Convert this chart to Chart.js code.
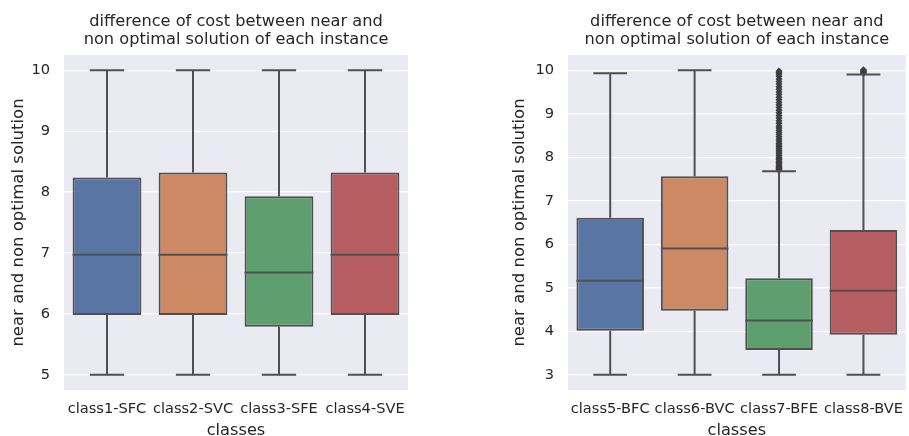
<!DOCTYPE html>
<html>
<head>
<meta charset="utf-8">
<script src="https://cdn.jsdelivr.net/npm/chart.js@4.4.1/dist/chart.umd.min.js"></script>
<style>
  html, body { margin: 0; padding: 0; background: #ffffff; overflow: hidden; width: 909px; height: 436px; }
  .panel { position: absolute; top: 0; height: 445px; }
  #left { left: 0; width: 454px; }
  #right { left: 454px; width: 460px; }
</style>
</head>
<body>
<div class="panel" id="left"><canvas id="c1"></canvas></div>
<div class="panel" id="right"><canvas id="c2"></canvas></div>
<script>
// Chart text
const titleLines = ['difference of cost between near and', 'non optimal solution of each instance'];
const yAxisTitle = 'near and non optimal solution';
const xAxisTitle = 'classes';

// Left panel: classes 1-4
const leftClasses = ['class1-SFC', 'class2-SVC', 'class3-SFE', 'class4-SVE'];
const leftLower  = [5.0, 5.0, 5.0, 5.0];
const leftQ1     = [5.98, 5.98, 5.79, 5.98];
const leftMedian = [6.97, 6.97, 6.68, 6.97];
const leftQ3     = [8.24, 8.32, 7.93, 8.32];
const leftUpper  = [10.0, 10.0, 10.0, 10.0];
const leftTicks  = [5, 6, 7, 8, 9, 10];

// Right panel: classes 5-8
const rightClasses = ['class5-BFC', 'class6-BVC', 'class7-BFE', 'class8-BVE'];
const rightLower  = [3.0, 3.0, 3.0, 3.0];
const rightQ1     = [4.01, 4.47, 3.57, 3.92];
const rightMedian = [5.16, 5.90, 4.25, 4.93];
const rightQ3     = [6.61, 7.56, 5.22, 6.33];
const rightUpper  = [9.93, 10.0, 7.68, 9.90];
const rightTicks  = [3, 4, 5, 6, 7, 8, 9, 10];

// Points beyond the whiskers
const outliersClass7 = [7.70, 7.72, 7.74, 7.76, 7.79, 7.82, 7.85, 7.88, 7.91, 7.94, 7.97, 8.00,
  8.04, 8.08, 8.12, 8.16, 8.20, 8.24, 8.28, 8.32, 8.37, 8.42, 8.47, 8.52, 8.57, 8.62, 8.67,
  8.72, 8.78, 8.84, 8.90, 8.96, 9.02, 9.08, 9.14, 9.20, 9.26, 9.32, 9.38, 9.44, 9.50, 9.56,
  9.62, 9.68, 9.74, 9.80, 9.86, 9.91, 9.95, 9.98];
const outliersClass8 = [9.93, 9.95, 9.97, 9.99, 10.01];

const boxColors = ['#5875a4', '#cc8963', '#5f9e6e', '#b55d60'];
const lineColor = '#505050';
const textColor = '#262626';
const fontFamily = '"DejaVu Sans", sans-serif';

// Plot background and whiskers / medians
const boxPlotPlugin = {
  id: 'boxPlot',
  beforeDraw(chart) {
    const a = chart.chartArea, ctx = chart.ctx;
    ctx.save();
    ctx.fillStyle = '#eaeaf2';
    ctx.fillRect(a.left, a.top, a.right - a.left, a.bottom - a.top);
    ctx.restore();
  },
  afterDatasetsDraw(chart) {
    const st = chart.options.plugins.boxPlot;
    const x = chart.scales.x, y = chart.scales.y, ctx = chart.ctx;
    const meta = chart.getDatasetMeta(0);
    ctx.save();
    ctx.strokeStyle = lineColor;
    ctx.lineWidth = 2;
    ctx.lineCap = 'butt';
    st.median.forEach((m, i) => {
      const cx = x.getPixelForValue(i);
      const bar = meta.data[i];
      const half = bar.width / 2;
      const capHalf = half / 2;
      const yl = y.getPixelForValue(st.lower[i]);
      const yq1 = y.getPixelForValue(st.q1[i]);
      const yq3 = y.getPixelForValue(st.q3[i]);
      const yu = y.getPixelForValue(st.upper[i]);
      const ym = y.getPixelForValue(m);
      ctx.beginPath();
      ctx.moveTo(cx, yq1); ctx.lineTo(cx, yl);
      ctx.moveTo(cx - capHalf, yl); ctx.lineTo(cx + capHalf, yl);
      ctx.moveTo(cx, yq3); ctx.lineTo(cx, yu);
      ctx.moveTo(cx - capHalf, yu); ctx.lineTo(cx + capHalf, yu);
      ctx.moveTo(cx - half, ym); ctx.lineTo(cx + half, ym);
      ctx.stroke();
    });
    ctx.restore();
  }
};

function makeChart(id, classes, lower, q1, median, q3, upper, ticks, yMin, yMax, outliers, pad, yWidth) {
  const datasets = [{
    type: 'bar',
    data: classes.map((c, i) => [q1[i], q3[i]]),
    backgroundColor: boxColors,
    borderColor: lineColor,
    borderWidth: 2,
    borderSkipped: false,
    barPercentage: 0.8,
    categoryPercentage: 1.0,
    order: 2
  }];
  outliers.forEach(o => {
    datasets.push({
      type: 'line',
      data: o.values.map(v => ({ x: o.cls, y: v })),
      showLine: false,
      pointStyle: 'rectRot',
      pointRadius: 3.5,
      pointBackgroundColor: '#3e3e3e',
      pointBorderColor: '#3e3e3e',
      pointBorderWidth: 0,
      order: 1
    });
  });
  return new Chart(document.getElementById(id), {
    data: { labels: classes, datasets },
    plugins: [boxPlotPlugin],
    options: {
      responsive: true,
      maintainAspectRatio: false,
      animation: false,
      events: [],
      layout: { padding: pad },
      plugins: {
        legend: { display: false },
        tooltip: { enabled: false },
        title: {
          display: true,
          text: titleLines,
          fullSize: false,
          color: textColor,
          font: { family: fontFamily, size: 16.2, weight: 'normal', lineHeight: 1.11 },
          padding: { top: 0, bottom: 6 }
        },
        boxPlot: { lower, q1, median, q3, upper }
      },
      scales: {
        x: {
          type: 'category',
          offset: true,
          grid: { display: false, drawTicks: false },
          border: { display: false },
          ticks: { color: textColor, font: { family: fontFamily, size: 14.6 }, padding: 10, maxRotation: 0, autoSkip: false },
          title: { display: true, text: xAxisTitle, color: textColor, font: { family: fontFamily, size: 16.2, lineHeight: 1.0 }, padding: { top: 0, bottom: 6 } },
          afterFit(s) { s.height = 55; }
        },
        y: {
          min: yMin,
          max: yMax,
          afterBuildTicks(s) { s.ticks = ticks.map(v => ({ value: v })); },
          grid: { color: '#ffffff', lineWidth: 1.2, drawTicks: false },
          border: { display: false },
          ticks: { color: textColor, font: { family: fontFamily, size: 14.6 }, padding: 14 },
          title: { display: true, text: yAxisTitle, color: textColor, font: { family: fontFamily, size: 16.5, lineHeight: 1.0 }, padding: { top: 10, bottom: 0 } },
          afterFit(s) { s.width = yWidth; }
        }
      }
    }
  });
}

makeChart('c1', leftClasses, leftLower, leftQ1, leftMedian, leftQ3, leftUpper, leftTicks, 4.75, 10.25,
  [], { left: 0, right: 46, top: 13, bottom: 0 }, 64);
makeChart('c2', rightClasses, rightLower, rightQ1, rightMedian, rightQ3, rightUpper, rightTicks, 2.65, 10.35,
  [{ cls: 'class7-BFE', values: outliersClass7 }, { cls: 'class8-BVE', values: outliersClass8 }],
  { left: 47, right: 2, top: 13, bottom: 0 }, 67);
</script>
</body>
</html>
